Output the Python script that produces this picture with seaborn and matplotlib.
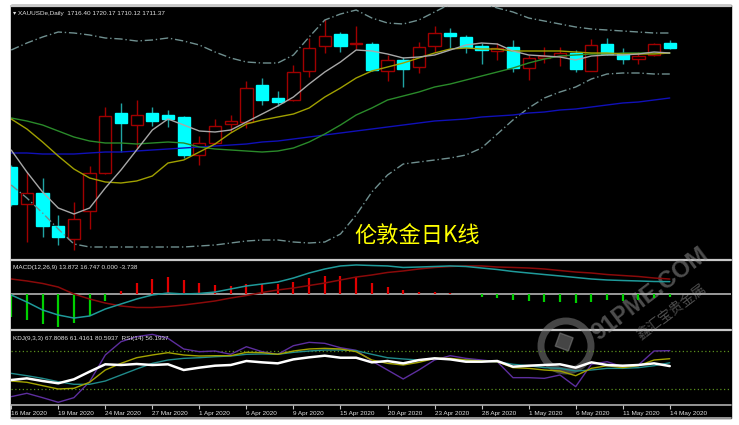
import numpy as np
import pandas as pd
import matplotlib
matplotlib.use("Agg")
import matplotlib.pyplot as plt
import seaborn as sns

# --- dados (XAUUSD diário, 16 Mar - 14 May 2020) ---
opens = [1568.0, 1523.6, 1536.4, 1497.2, 1481.2, 1515.6, 1561.2, 1633.2, 1618.4, 1632.4, 1630.4,
         1627.6, 1582.4, 1596.4, 1619.6, 1622.4, 1666.0, 1651.2, 1648.4, 1683.6, 1713.2, 1727.2,
         1715.2, 1715.6, 1683.2, 1696.4, 1687.6, 1713.2, 1728.4, 1724.4, 1713.2, 1707.6, 1712.4,
         1686.4, 1698.4, 1701.2, 1705.2, 1683.6, 1715.6, 1703.6, 1697.2, 1702.4, 1716.40]
highs = [1570.4, 1562.4, 1554.8, 1510.4, 1526.0, 1569.2, 1639.6, 1645.2, 1648.4, 1639.6, 1637.0,
         1629.2, 1605.6, 1625.2, 1630.4, 1671.2, 1674.4, 1659.6, 1690.4, 1722.4, 1745.2, 1729.6,
         1737.2, 1718.4, 1702.4, 1700.4, 1717.6, 1737.2, 1734.4, 1726.4, 1716.4, 1716.8, 1720.4,
         1702.4, 1712.0, 1712.4, 1708.4, 1721.2, 1722.4, 1710.4, 1706.4, 1717.2, 1720.17]
lows = [1521.2, 1478.4, 1484.4, 1474.4, 1468.4, 1493.6, 1559.6, 1586.4, 1590.8, 1617.2, 1616.4,
        1578.8, 1570.4, 1595.6, 1610.4, 1614.4, 1642.4, 1641.2, 1647.2, 1676.4, 1705.2, 1706.4,
        1709.2, 1683.2, 1671.6, 1664.4, 1680.4, 1706.4, 1710.4, 1705.2, 1691.6, 1696.8, 1682.4,
        1672.4, 1692.4, 1689.2, 1682.4, 1683.2, 1702.4, 1691.6, 1691.6, 1701.2, 1710.12]
closes = [1523.6, 1536.8, 1497.2, 1484.4, 1505.6, 1560.4, 1629.2, 1620.4, 1630.4, 1623.6, 1625.2,
          1582.4, 1596.4, 1617.2, 1623.2, 1662.4, 1648.4, 1646.4, 1682.4, 1710.4, 1725.2, 1713.2,
          1717.2, 1684.4, 1696.4, 1685.2, 1712.4, 1728.4, 1725.2, 1712.4, 1708.4, 1711.2, 1686.4,
          1698.4, 1701.2, 1705.2, 1685.2, 1714.4, 1703.6, 1697.2, 1701.2, 1715.6, 1711.37]

# médias móveis e bandas de Bollinger
ma_gray = [1588.4, 1562.0, 1538.0, 1518.8, 1511.6, 1518.8, 1542.8, 1564.4, 1588.4, 1612.4, 1625.6,
           1618.4, 1611.2, 1610.0, 1612.4, 1622.0, 1631.6, 1641.2, 1652.0, 1667.6, 1682.0, 1694.0,
           1708.4, 1707.2, 1703.6, 1698.8, 1700.0, 1702.4, 1708.4, 1714.4, 1716.8, 1715.6, 1707.2,
           1702.4, 1701.2, 1700.0, 1696.4, 1701.2, 1702.4, 1702.4, 1703.6, 1706.0, 1704.8]
ma_yellow = [1625.6, 1613.6, 1598.0, 1581.2, 1565.6, 1554.8, 1550.0, 1548.8, 1551.2, 1557.2, 1572.8,
             1576.4, 1586.0, 1595.6, 1608.8, 1619.6, 1624.4, 1628.0, 1631.6, 1638.8, 1652.0, 1662.8,
             1674.8, 1683.2, 1688.0, 1692.8, 1698.8, 1704.8, 1709.6, 1710.8, 1709.6, 1709.6, 1707.2,
             1707.2, 1707.2, 1707.2, 1706.0, 1704.8, 1704.8, 1703.6, 1703.6, 1703.6, 1704.8]
ma_green = [1626.8, 1623.2, 1618.4, 1611.2, 1604.0, 1599.2, 1596.8, 1596.8, 1595.6, 1596.8, 1598.0,
            1596.8, 1592.0, 1589.6, 1588.4, 1587.2, 1586.0, 1587.2, 1590.8, 1598.0, 1607.6, 1618.4,
            1630.4, 1638.8, 1648.4, 1653.2, 1658.0, 1664.0, 1667.6, 1672.4, 1677.2, 1682.0, 1686.8,
            1692.8, 1697.6, 1701.2, 1702.4, 1703.6, 1703.6, 1704.8, 1704.8, 1704.8, 1704.8]
ma_blue = [1584.8, 1584.8, 1583.6, 1583.6, 1583.6, 1584.8, 1586.0, 1586.0, 1587.2, 1588.4, 1589.6,
           1590.8, 1592.0, 1593.2, 1594.4, 1595.6, 1598.0, 1599.2, 1601.6, 1604.0, 1606.4, 1608.8,
           1611.2, 1613.6, 1616.0, 1618.4, 1620.8, 1623.2, 1624.4, 1625.6, 1628.0, 1629.2, 1630.4,
           1632.8, 1634.0, 1636.4, 1637.6, 1640.0, 1642.4, 1644.8, 1646.0, 1648.4, 1650.8]
bb_upper = [1708.4, 1716.8, 1724.0, 1730.0, 1728.8, 1726.4, 1722.8, 1721.6, 1719.2, 1720.4, 1722.8,
            1719.2, 1714.4, 1706.0, 1698.8, 1694.0, 1692.8, 1692.8, 1702.4, 1724.0, 1744.4, 1751.6,
            1756.4, 1746.8, 1740.8, 1739.6, 1744.4, 1754.0, 1763.6, 1768.4, 1764.8, 1758.8, 1754.0,
            1746.8, 1743.2, 1739.6, 1736.0, 1733.6, 1732.4, 1731.2, 1730.0, 1728.8, 1728.8]
bb_lower = [1546.4, 1530.8, 1512.8, 1493.6, 1475.6, 1472.0, 1472.0, 1472.0, 1472.0, 1472.0, 1472.0,
            1472.0, 1473.2, 1474.4, 1476.8, 1479.2, 1480.4, 1480.4, 1478.0, 1476.8, 1478.0, 1487.6,
            1510.4, 1538.0, 1558.4, 1571.6, 1574.0, 1576.4, 1578.8, 1582.4, 1590.8, 1607.6, 1624.4,
            1638.8, 1650.8, 1658.0, 1664.0, 1673.6, 1679.6, 1680.8, 1680.8, 1679.6, 1679.6]

# MACD
macd_dif = [-1.1, -9.0, -17.9, -23.5, -26.9, -24.6, -16.8, -11.2, -5.6, -1.1, 1.1, 0.0, 0.6, 2.2,
            5.6, 9.0, 11.2, 13.4, 17.9, 23.5, 28.0, 31.4, 32.5, 31.9, 31.4, 29.7, 30.2, 30.8, 31.4,
            30.8, 29.1, 27.4, 25.2, 23.5, 21.8, 20.2, 18.5, 16.8, 15.7, 15.1, 14.6, 14.0, 13.872]
macd_dea = [16.8, 14.6, 11.8, 7.8, 0.0, -5.6, -10.1, -13.4, -15.1, -15.1, -14.0, -12.3, -10.1, -7.8,
            -4.5, -1.7, 1.7, 4.5, 6.7, 9.5, 12.3, 15.7, 19.0, 21.3, 24.1, 25.8, 28.0, 29.7, 30.8,
            31.4, 31.4, 30.2, 29.7, 29.1, 28.0, 26.3, 24.6, 23.5, 21.8, 20.7, 19.6, 17.9, 16.747]
macd_hist = [-25.4, -29.1, -33.9, -36.6, -32.8, -24.3, -7.5, 3.7, 12.7, 16.8, 19.4, 15.7, 12.3, 10.4,
             9.0, 11.5, 11.5, 10.9, 13.8, 17.6, 20.5, 19.8, 19.0, 12.7, 8.2, 4.5, 2.2, 2.2, 1.5, 0.3,
             -3.0, -4.1, -6.7, -7.8, -8.6, -8.6, -10.4, -8.6, -7.1, -7.5, -6.7, -4.8, -3.738]

# KDJ + RSI
kdj_k = [32.6, 30.6, 25.3, 20.0, 21.1, 30.6, 50.0, 60.5, 69.4, 73.7, 77.4, 73.7, 72.1, 72.6, 72.6,
         77.9, 77.4, 74.8, 80.0, 83.2, 84.2, 83.2, 78.9, 65.8, 60.5, 57.9, 62.1, 68.4, 68.4, 65.8,
         64.2, 63.1, 53.7, 52.6, 50.0, 48.4, 41.0, 52.6, 56.8, 53.7, 56.8, 65.8, 67.8086]
kdj_d = [44.7, 41.0, 36.8, 31.5, 27.4, 27.4, 32.6, 42.1, 51.6, 60.5, 65.8, 68.4, 69.4, 71.0, 72.1,
         74.8, 75.3, 74.8, 77.9, 80.0, 81.6, 81.6, 80.5, 74.8, 69.4, 67.4, 65.8, 68.4, 66.8, 65.8,
         64.2, 63.1, 59.0, 56.8, 53.7, 52.6, 48.4, 50.0, 52.6, 52.6, 53.7, 56.8, 61.4161]
kdj_j = [7.9, 13.2, 6.3, -1.0, 6.3, 31.5, 73.7, 94.7, 102.6, 106.3, 100.0, 83.2, 78.9, 80.0, 74.8,
         86.8, 78.9, 74.8, 88.4, 93.7, 92.1, 85.2, 81.1, 64.2, 50.0, 35.8, 50.0, 65.8, 72.6, 68.4,
         65.8, 63.1, 37.9, 37.9, 36.8, 42.1, 23.7, 59.0, 63.1, 55.2, 57.9, 80.0, 80.5937]
rsi = [34.2, 36.8, 32.6, 29.0, 35.3, 47.4, 59.0, 57.9, 59.5, 57.9, 59.0, 50.0, 53.7, 56.8, 57.9,
       64.2, 62.1, 60.5, 66.8, 70.0, 72.6, 69.4, 69.4, 62.1, 64.2, 60.5, 65.7, 68.4, 66.8, 63.1,
       63.1, 64.2, 55.2, 56.8, 57.9, 59.0, 53.7, 62.1, 57.9, 56.8, 57.9, 60.5, 56.1937]

tick_labels = ["16 Mar 2020", "19 Mar 2020", "24 Mar 2020", "27 Mar 2020", "1 Apr 2020",
               "6 Apr 2020", "9 Apr 2020", "15 Apr 2020", "20 Apr 2020", "23 Apr 2020",
               "28 Apr 2020", "1 May 2020", "6 May 2020", "11 May 2020", "14 May 2020"]

df = pd.DataFrame({"open": opens, "high": highs, "low": lows, "close": closes})
df["idx"] = np.arange(len(df))
idx = df["idx"].values

# --- estilo ---
sns.set_style("dark", {"axes.facecolor": "black"})
plt.rcParams["font.family"] = ["Liberation Sans", "DejaVu Sans"]

W, H = 739, 425
fig = plt.figure(figsize=(W / 100, H / 100), dpi=100)
fig.patch.set_facecolor("white")


def caixa(x0, y0, x1, y1):
    # converte pixels (origem no topo) para fração da figura
    return [x0 / W, 1 - y1 / H, (x1 - x0) / W, (y1 - y0) / H]


# fundo preto e linhas de separação dos painéis
bg = fig.add_axes([0, 0, 1, 1])
bg.set_xlim(0, W)
bg.set_ylim(H, 0)
bg.axis("off")
bg.add_patch(plt.Rectangle((11, 5), 720, 413, color="black", zorder=0))
for yy in [5.5, 259.5, 329.5]:
    bg.plot([11, 731], [yy, yy], color="#c8c8c8", lw=1.6, zorder=1)
for yy in [405, 418]:
    bg.plot([11, 731], [yy, yy], color="#b0b0b0", lw=1.2, zorder=1)

XLIM = (-0.013, 45.906)

# --- painel principal (candles) ---
ax = fig.add_axes(caixa(11, 6, 731, 258))
ax.set_facecolor("none")
ax.set_xlim(*XLIM)
ax.set_ylim(1458.8, 1761.2)

alta = df["close"] >= df["open"]
cor_pavio = np.where(alta, "#a00000", "#1fa3a3")
ax.vlines(idx, df["low"], df["high"], colors=cor_pavio, lw=1, zorder=2)
corpo = np.maximum((df["close"] - df["open"]).abs(), 0.8)
base = np.minimum(df["open"], df["close"])
ax.bar(idx, corpo, bottom=base, width=0.78,
       color=np.where(alta, "black", "#00ffff"),
       edgecolor=np.where(alta, "#a00000", "#00ffff"), linewidth=1, zorder=3)

linhas = [(bb_upper, "#6f8f8f", (0, (6, 2, 1, 2))), (bb_lower, "#6f8f8f", (0, (6, 2, 1, 2))),
          (ma_blue, "#1010b8", "-"), (ma_green, "#2a8a2a", "-"),
          (ma_yellow, "#a0a000", "-"), (ma_gray, "#a8a8a8", "-")]
for valores, cor, estilo in linhas:
    sns.lineplot(x=idx, y=valores, ax=ax, color=cor, lw=1, linestyle=estilo, zorder=4)

ax.text(0.003, 0.972, "▾ XAUUSDe,Daily  1716.40 1720.17 1710.12 1711.37",
        transform=ax.transAxes, color="#e0e0e0", fontsize=4.6, va="center")
ax.text(0.564, 0.088, "伦敦金日K线", transform=ax.transAxes, color="#ffff00",
        fontsize=16, ha="center", va="center", family=["Noto Sans CJK SC"])

# --- MACD ---
axm = fig.add_axes(caixa(11, 260.5, 731, 328.5))
axm.set_facecolor("none")
axm.set_xlim(*XLIM)
axm.set_ylim(-38.6, 37.5)
axm.axhline(0, color="#b4b4b4", lw=1.2, zorder=1)
axm.vlines(idx, 0, macd_hist, colors=np.where(np.array(macd_hist) > 0, "#e00000", "#00d000"),
           lw=1.6, zorder=2)
sns.lineplot(x=idx, y=macd_dea, ax=axm, color="#8a0a0a", lw=1.1, zorder=3)
sns.lineplot(x=idx, y=macd_dif, ax=axm, color="#1f9a9a", lw=1.1, zorder=3)
axm.text(0.003, 0.9, "MACD(12,26,9) 13.872 16.747 0.000 -3.738", transform=axm.transAxes,
         color="#e0e0e0", fontsize=4.6, va="center")

# --- KDJ / RSI ---
axk = fig.add_axes(caixa(11, 330.5, 731, 404.5))
axk.set_facecolor("none")
axk.set_xlim(*XLIM)
axk.set_ylim(-4.5, 112.4)
for nivel in [20, 80]:
    axk.axhline(nivel, color="#5a8f1e", lw=0.9, linestyle=(0, (1, 2)), zorder=1)
sns.lineplot(x=idx, y=kdj_j, ax=axk, color="#5d2e9e", lw=1, zorder=2)
sns.lineplot(x=idx, y=kdj_d, ax=axk, color="#208a8a", lw=1, zorder=2)
sns.lineplot(x=idx, y=kdj_k, ax=axk, color="#a3a300", lw=1, zorder=2)
sns.lineplot(x=idx, y=rsi, ax=axk, color="white", lw=1.8, zorder=3)
axk.text(0.003, 0.89, "KDJ(9,3,3) 67.8086 61.4161 80.5937  RSI(14) 56.1937",
         transform=axk.transAxes, color="#e0e0e0", fontsize=4.6, va="center")

for a in (ax, axm):
    a.set_xticks([])
    a.set_yticks([])
axk.set_yticks([])
axk.set_xticks(idx[::3])
axk.set_xticklabels(tick_labels, ha="left", fontsize=4.6, color="#e0e0e0")
axk.tick_params(axis="x", direction="out", length=3, width=0.8, color="#c0c0c0", pad=1.5,
                bottom=True)
for a in (ax, axm, axk):
    a.set_xlabel("")
    a.set_ylabel("")
    for s in a.spines.values():
        s.set_visible(False)

# marca d'água
bg.text(650, 294, "91PME.COM", rotation=37, color="#9a9a9a", alpha=0.5, fontsize=17,
        ha="center", va="center", fontweight="bold", zorder=5)
bg.text(672, 312, "鑫汇宝贵金属", rotation=37, color="#9a9a9a", alpha=0.5, fontsize=10,
        ha="center", va="center", family=["Noto Sans CJK SC"], zorder=5)
bg.add_patch(plt.Circle((566, 346), 25, fill=False, ec="#8a8a8a", lw=5, alpha=0.5, zorder=5))
bg.add_patch(plt.Rectangle((560, 333), 14, 14, angle=20, color="#8a8a8a", alpha=0.5, zorder=5))

plt.savefig("out.png", dpi=100, facecolor=fig.get_facecolor())
